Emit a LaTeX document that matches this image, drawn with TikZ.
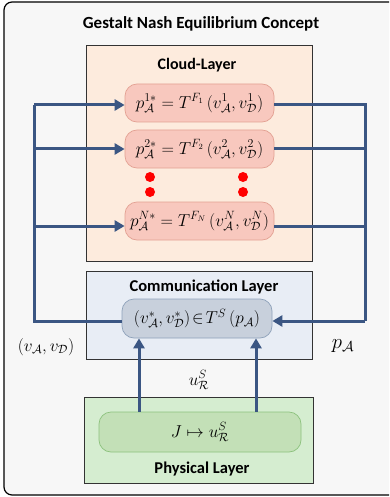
\documentclass[tikz,border=0pt]{standalone}
\usepackage{fontspec}
\setsansfont{Carlito}
\usetikzlibrary{arrows.meta}
\definecolor{bgc}{HTML}{F7F7F7}
\definecolor{cloudf}{HTML}{FDEBDD}
\definecolor{cloudin}{HTML}{F8C8BE}
\definecolor{cloudbd}{HTML}{E3A193}
\definecolor{commf}{HTML}{E8EDF5}
\definecolor{commin}{HTML}{C8D0DC}
\definecolor{commbd}{HTML}{8FA2BA}
\definecolor{physf}{HTML}{D5EDD0}
\definecolor{physin}{HTML}{C3E0B7}
\definecolor{physbd}{HTML}{8DC27E}
\definecolor{linec}{HTML}{3B5683}
\definecolor{layerbd}{HTML}{333333}
\tikzset{
  x=1pt,y=-1pt,
  layer/.style={draw=layerbd,line width=0.9pt},
  inbox/.style={rounded corners=12pt,line width=0.7pt},
  lab/.style={font=\sffamily\bfseries\fontsize{16.5}{18}\selectfont},
  conn/.style={draw=linec,line width=3pt},
  arr/.style={conn,-{Triangle[length=10pt,width=11pt]}},
  dot/.style={circle,fill=red,inner sep=0pt,minimum size=10pt},
  fm/.style={font=\fontsize{16.5}{19}\selectfont}
}
\begin{document}
\begin{tikzpicture}
\useasboundingbox (0,0) rectangle (389,497);
\clip (0,0) rectangle (389,497);
\draw[fill=bgc,draw=black,line width=1.2pt,rounded corners=8pt] (4,2) rectangle (400,495);
\node[lab,font=\sffamily\bfseries\fontsize{17}{19}\selectfont] (title) at (201,24) {Gestalt Nash Equilibrium Concept};
% layers
\draw[layer,fill=cloudf] (86,45) rectangle (312,261);
\node[lab,font=\sffamily\bfseries\fontsize{16}{18}\selectfont] (cloudlab) at (197,65) {Cloud-Layer};
\draw[layer,fill=commf] (86,271) rectangle (312,359);
\node[lab] (commlab) at (204,287) {Communication Layer};
\draw[layer,fill=physf] (84,397) rectangle (313,483);
\node[lab] (physlab) at (202,469) {Physical Layer};
% inner boxes
\node[inbox,draw=cloudbd,fill=cloudin,minimum width=149pt,minimum height=38pt,fm] (c1) at (199.5,103) {$p_{\mathcal{A}}^{1*}=T^{F_1}\,\bigl(v_{\mathcal{A}}^{1},v_{\mathcal{D}}^{1}\bigr)$};
\node[inbox,draw=cloudbd,fill=cloudin,minimum width=149pt,minimum height=38pt,fm] (c2) at (199.5,149) {$p_{\mathcal{A}}^{2*}=T^{F_2}\,\bigl(v_{\mathcal{A}}^{2},v_{\mathcal{D}}^{2}\bigr)$};
\node[inbox,draw=cloudbd,fill=cloudin,minimum width=149pt,minimum height=38pt,fm] (cN) at (199.5,221) {$p_{\mathcal{A}}^{N*}=T^{F_N}\,\bigl(v_{\mathcal{A}}^{N},v_{\mathcal{D}}^{N}\bigr)$};
\node[dot] (d1) at (150,177) {};
\node[dot] (d2) at (150,192) {};
\node[dot] (d3) at (243,177) {};
\node[dot] (d4) at (243,192) {};
\node[inbox,draw=commbd,fill=commin,minimum width=150pt,minimum height=39pt,inner sep=1pt,fm] (cm) at (197,318.5) {$\bigl(v_{\mathcal{A}}^{*},v_{\mathcal{D}}^{*}\bigr)\!\in\! T^{S}\,\bigl(p_{\mathcal{A}}\bigr)$};
\node[inbox,draw=physbd,fill=physin,minimum width=202pt,minimum height=40pt,font=\fontsize{18}{20}\selectfont] (ph) at (200,432) {$J\mapsto u_{\mathcal{R}}^{S}$};
% connectors
\coordinate (L1) at (34,105);
\coordinate (L2) at (34,149);
\coordinate (LN) at (34,226);
\coordinate (LB) at (34,321);
\coordinate (R1) at (365,105);
\coordinate (R2) at (365,149);
\coordinate (RN) at (365,226);
\coordinate (RB) at (365,321);
\draw[conn] (cm.west |- LB) -- (LB) -- (L1);
\draw[arr] (L1) -- (c1.west |- L1);
\draw[arr] (L2) -- (c2.west |- L2);
\draw[arr] (LN) -- (cN.west |- LN);
\draw[conn] (c1.east |- R1) -- (R1) -- (RB);
\draw[conn] (c2.east |- R2) -- (R2);
\draw[conn] (cN.east |- RN) -- (RN);
\draw[arr] (RB) -- (cm.east |- RB);
\draw[arr] (ph.north -| 139,0) -- (cm.south -| 139,0);
\draw[arr] (ph.north -| 256,0) -- (cm.south -| 256,0);
% labels
\node[fm] (vlab) at (46,347) {$\bigl(v_{\mathcal{A}},v_{\mathcal{D}}\bigr)$};
\node[font=\fontsize{22}{24}\selectfont] (plab) at (343,346) {$p_{\mathcal{A}}$};
\node[font=\fontsize{18}{20}\selectfont] (ulab) at (199,380) {$u_{\mathcal{R}}^{S}$};
\end{tikzpicture}
\end{document}
